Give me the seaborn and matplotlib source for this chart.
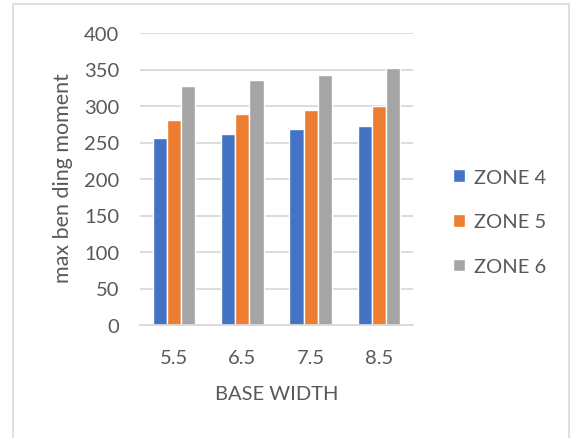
import matplotlib
matplotlib.use("Agg")
import matplotlib.pyplot as plt
import seaborn as sns
import pandas as pd
from matplotlib.patches import Rectangle

# Maximum bending moment by base width for each seismic zone
base_width = ["5.5", "6.5", "7.5", "8.5"]
zone_4 = [256, 262, 268, 273]
zone_5 = [281, 289, 295, 300]
zone_6 = [327, 335, 343, 352]
zones = ["ZONE 4", "ZONE 5", "ZONE 6"]
colors = ["#4472C4", "#ED7D31", "#A5A5A5"]
y_ticks = [0, 50, 100, 150, 200, 250, 300, 350, 400]

df = pd.DataFrame({
    "base": base_width * 3,
    "zone": [z for z in zones for _ in base_width],
    "moment": zone_4 + zone_5 + zone_6,
})

sns.set_theme(style="white")
plt.rcParams["font.family"] = ["Lato", "DejaVu Sans"]
text_color = "#595959"
grid_color = "#D9D9D9"
fs = 14.5

fig = plt.figure(figsize=(5.70, 4.39), dpi=100)
ax = fig.add_axes([140 / 570, 1 - 326 / 439, 273 / 570, 292 / 439])

sns.barplot(data=df, x="base", y="moment", hue="zone", order=base_width,
            hue_order=zones, palette=colors, width=0.62, gap=0,
            saturation=1, ax=ax, legend=True)

ax.set_ylim(0, 400)
ax.set_xlim(-0.5, 3.5)
ax.set_yticks(y_ticks)
ax.yaxis.grid(True, color=grid_color, linewidth=1.3)
ax.set_axisbelow(True)
for side in ["top", "right", "left"]:
    ax.spines[side].set_visible(False)
ax.spines["bottom"].set_color(grid_color)
ax.spines["bottom"].set_linewidth(1.3)
ax.tick_params(axis="y", length=0, pad=15, labelsize=fs, labelcolor=text_color)
ax.tick_params(axis="x", length=0, pad=17, labelsize=fs, labelcolor=text_color)

ax.set_xlabel("BASE WIDTH", fontsize=fs, color=text_color)
ax.xaxis.set_label_coords(0.5, (326 - 395) / 292)
ax.xaxis.label.set_va("center")
ax.set_ylabel("max ben ding moment", fontsize=15.5, color=text_color)
ax.yaxis.set_label_coords((63 - 140) / 273, (326 - 178) / 292)
ax.yaxis.label.set_va("center")

handles, labels = ax.get_legend_handles_labels()
ax.get_legend().remove()
fig.legend(handles, labels, loc="center left", bbox_to_anchor=(443 / 570, 1 - 223 / 439),
           frameon=False, fontsize=fs, labelcolor=text_color, borderpad=0,
           handlelength=0.6, handleheight=0.6, handletextpad=0.45,
           labelspacing=1.37)

# Light chart-area border
fig.patches.append(Rectangle((13 / 570, -0.05), (569 - 13) / 570, 1.05 - 5 / 439,
                             transform=fig.transFigure, fill=False,
                             edgecolor="#D9D9D9", linewidth=1.2))

fig.savefig("out.png", dpi=100)
